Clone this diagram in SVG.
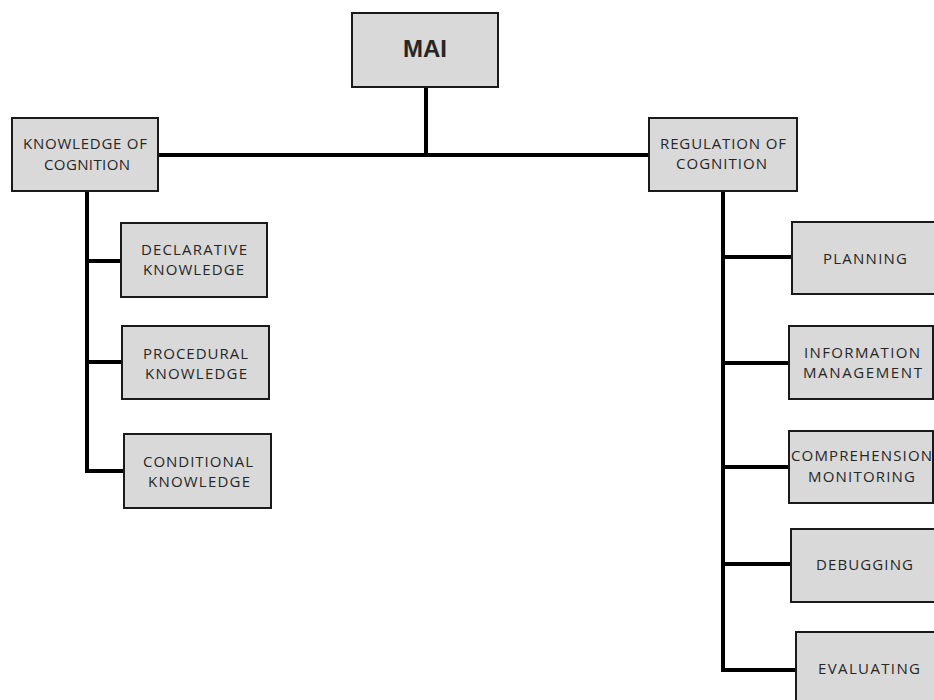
<svg xmlns="http://www.w3.org/2000/svg" width="934" height="700" viewBox="0 0 934 700">
<style>
.box{fill:#d9d9d9;stroke:#1a1a1a;stroke-width:2}
.t{font-family:"Open Sans","Liberation Sans",sans-serif;font-size:15px;fill:#262626}
.mai{font-family:"Liberation Sans",Arial,sans-serif;font-size:23px;font-weight:bold;fill:#262626}
.c{fill:none;stroke:#000;stroke-width:4;stroke-linejoin:miter}
</style>
<rect width="934" height="700" fill="#fff"/>
<g id="connectors">
<path class="c" d="M426 87V155M158 155H649"/>
<path class="c" d="M87 191V471H124M87 261H121M87 362H122"/>
<path class="c" d="M723 191V670H796M723 257H792M723 363H789M723 467H789M723 564H791"/>
</g>
<g id="mai"><rect class="box" x="352" y="13" width="146" height="74"/><text class="mai" x="403" y="57" textLength="44" lengthAdjust="spacingAndGlyphs">MAI</text></g>
<g id="knowledge"><rect class="box" x="12" y="118" width="146" height="73"/><text class="t" x="23" y="149" textLength="124" lengthAdjust="spacing">KNOWLEDGE OF</text><text class="t" x="44" y="170" textLength="86" lengthAdjust="spacing">COGNITION</text></g>
<g id="declarative"><rect class="box" x="121" y="223" width="146" height="74"/><text class="t" x="141" y="255" textLength="106" lengthAdjust="spacing">DECLARATIVE</text><text class="t" x="143" y="275" textLength="101" lengthAdjust="spacing">KNOWLEDGE</text></g>
<g id="procedural"><rect class="box" x="122" y="326" width="147" height="73"/><text class="t" x="143" y="359" textLength="105" lengthAdjust="spacing">PROCEDURAL</text><text class="t" x="145" y="379" textLength="102" lengthAdjust="spacing">KNOWLEDGE</text></g>
<g id="conditional"><rect class="box" x="124" y="434" width="147" height="74"/><text class="t" x="143" y="467" textLength="110" lengthAdjust="spacing">CONDITIONAL</text><text class="t" x="148" y="487" textLength="102" lengthAdjust="spacing">KNOWLEDGE</text></g>
<g id="regulation"><rect class="box" x="649" y="118" width="148" height="73"/><text class="t" x="660" y="149" textLength="126" lengthAdjust="spacing">REGULATION OF</text><text class="t" x="676" y="169" textLength="91" lengthAdjust="spacing">COGNITION</text></g>
<g id="planning"><rect class="box" x="792" y="222" width="145" height="72"/><text class="t" x="823" y="264" textLength="84" lengthAdjust="spacing">PLANNING</text></g>
<g id="information"><rect class="box" x="789" y="326" width="144" height="73"/><text class="t" x="804" y="358" textLength="116" lengthAdjust="spacing">INFORMATION</text><text class="t" x="803" y="378" textLength="119" lengthAdjust="spacing">MANAGEMENT</text></g>
<g id="comprehension"><rect class="box" x="789" y="431" width="144" height="72"/><text class="t" x="791" y="461" textLength="141" lengthAdjust="spacing">COMPREHENSION</text><text class="t" x="808" y="482" textLength="107" lengthAdjust="spacing">MONITORING</text></g>
<g id="debugging"><rect class="box" x="791" y="529" width="145" height="73"/><text class="t" x="816" y="570" textLength="97" lengthAdjust="spacing">DEBUGGING</text></g>
<g id="evaluating"><rect class="box" x="796" y="632" width="140" height="80"/><text class="t" x="818" y="674" textLength="102" lengthAdjust="spacing">EVALUATING</text></g>
</svg>
